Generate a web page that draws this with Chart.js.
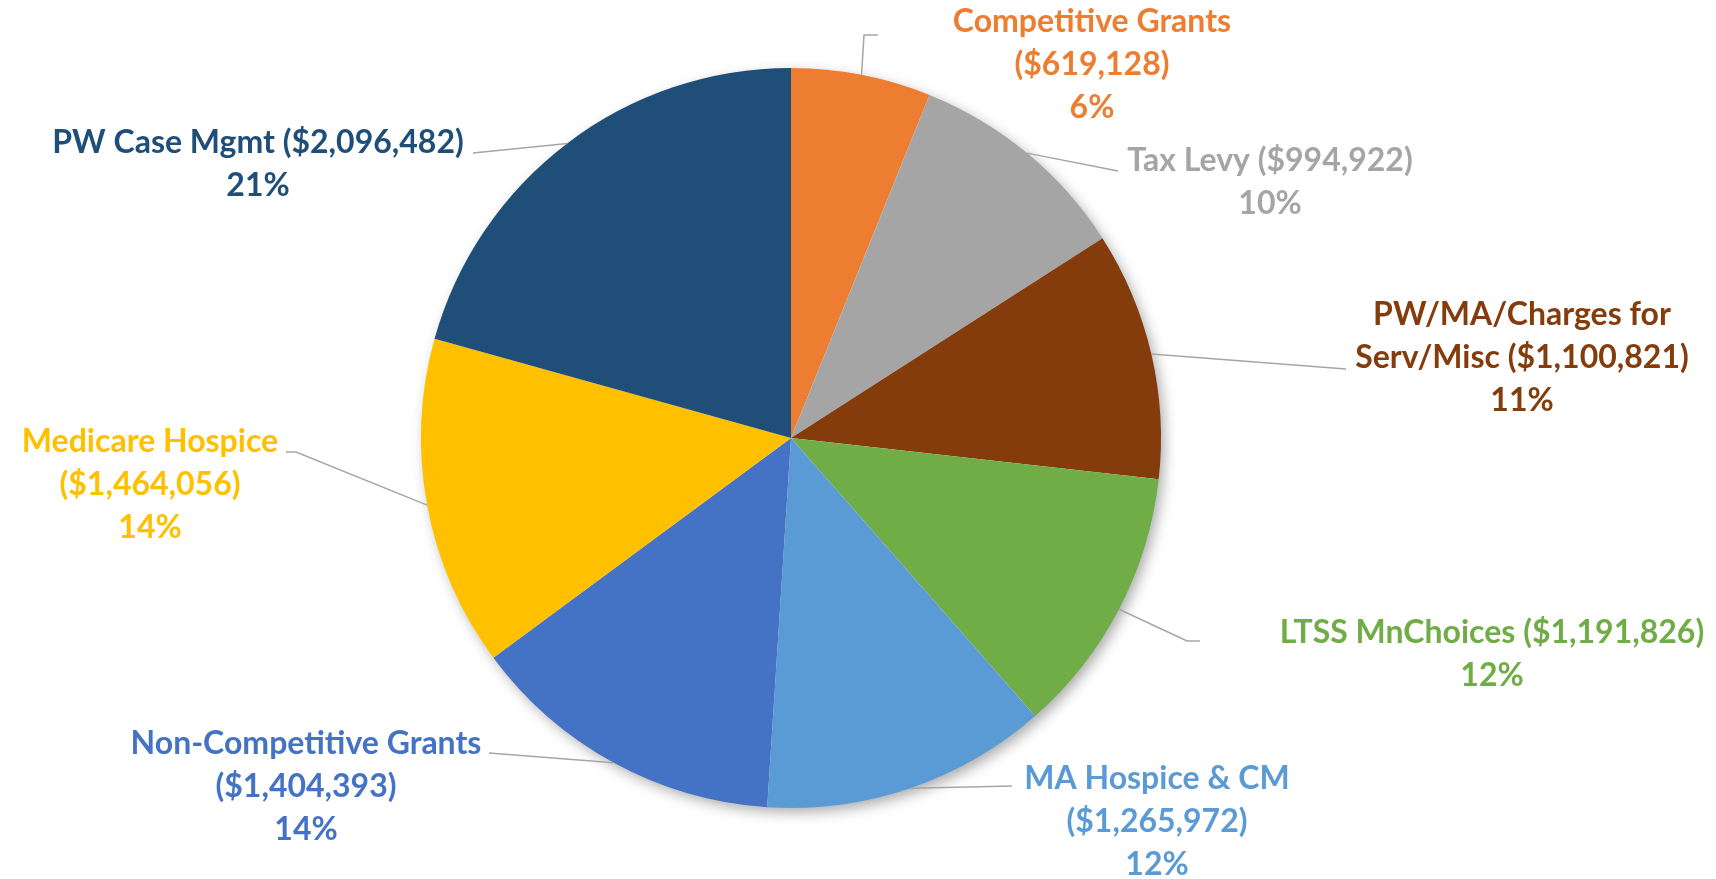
<!DOCTYPE html>
<html>
<head>
<meta charset="utf-8">
<title>Funding sources</title>
<script src="https://cdn.jsdelivr.net/npm/chart.js@4.4.1/dist/chart.umd.min.js"></script>
<style>
	html, body { margin: 0; padding: 0; background: #fff; }
	canvas { display: block; }
</style>
</head>
<body>
<canvas id="chartjs-fontes" width="1716" height="879"></canvas>
<script>
// data (clockwise from 12 o'clock)
const categories = [
	'Competitive Grants',
	'Tax Levy',
	'PW/MA/Charges for Serv/Misc',
	'LTSS MnChoices',
	'MA Hospice & CM',
	'Non-Competitive Grants',
	'Medicare Hospice',
	'PW Case Mgmt'
];
const amounts = [619128, 994922, 1100821, 1191826, 1265972, 1404393, 1464056, 2096482];
const colors = ['#ED7D31', '#A5A5A5', '#843C0C', '#70AD47', '#5B9BD5', '#4472C4', '#FFC000', '#1F4E79'];

// label placement (centre of first text line, leader line points after the arc edge)
// brk = words of the name on the first line, amtLine = amount goes on its own line
const labelLayout = [
	{ x: 1092, y: 22,  brk: 9, amtLine: true,  leader: [[864, 35], [878, 35]] },
	{ x: 1270, y: 161, brk: 9, amtLine: false, leader: [[1118, 171]] },
	{ x: 1522, y: 315, brk: 2, amtLine: false, leader: [[1346, 369]] },
	{ x: 1492, y: 633, brk: 9, amtLine: false, leader: [[1187, 641], [1200, 641]] },
	{ x: 1157, y: 779, brk: 9, amtLine: true,  leader: [[1012, 786]] },
	{ x: 306,  y: 744, brk: 9, amtLine: true,  leader: [[489, 753]] },
	{ x: 150,  y: 442, brk: 9, amtLine: true,  leader: [[296, 452], [286, 452]] },
	{ x: 258,  y: 143, brk: 9, amtLine: false, leader: [[473, 153]] }
];

const total = amounts.reduce((a, b) => a + b, 0);

function labelLines(i) {
	const words = categories[i].split(' ');
	const amt = '($' + amounts[i].toLocaleString('en-US') + ')';
	const pct = Math.round(amounts[i] / total * 100) + '%';
	const l = labelLayout[i];
	const first = words.slice(0, l.brk).join(' ');
	const rest = words.slice(l.brk).join(' ');
	const lines = [];
	if (rest) {
		lines.push(first);
		lines.push(rest + ' ' + amt);
	} else if (l.amtLine) {
		lines.push(first);
		lines.push(amt);
	} else {
		lines.push(first + ' ' + amt);
	}
	lines.push(pct);
	return lines;
}

// soft shadow under the whole pie, like the office chart
const pieShadow = {
	id: 'pieShadow',
	beforeDatasetsDraw(chart) {
		const arc = chart.getDatasetMeta(0).data[0];
		if (!arc) return;
		const ctx = chart.ctx;
		ctx.save();
		ctx.shadowColor = 'rgba(0, 0, 0, 0.35)';
		ctx.shadowBlur = 14;
		ctx.shadowOffsetX = 4;
		ctx.shadowOffsetY = 5;
		ctx.fillStyle = '#ffffff';
		ctx.beginPath();
		ctx.arc(arc.x, arc.y, arc.outerRadius - 1, 0, Math.PI * 2);
		ctx.fill();
		ctx.restore();
	}
};

// outside labels with leader lines
const outsideLabels = {
	id: 'outsideLabels',
	afterDatasetsDraw(chart) {
		const ctx = chart.ctx;
		const arcs = chart.getDatasetMeta(0).data;
		ctx.save();
		arcs.forEach((arc, i) => {
			const l = labelLayout[i];
			const mid = (arc.startAngle + arc.endAngle) / 2;
			ctx.strokeStyle = '#A6A6A6';
			ctx.lineWidth = 1.5;
			ctx.beginPath();
			ctx.moveTo(arc.x + Math.cos(mid) * arc.outerRadius, arc.y + Math.sin(mid) * arc.outerRadius);
			l.leader.forEach(p => ctx.lineTo(p[0], p[1]));
			ctx.stroke();

			ctx.fillStyle = colors[i];
			ctx.font = 'bold 32px Lato, "Open Sans", sans-serif';
			ctx.textAlign = 'center';
			ctx.textBaseline = 'middle';
			labelLines(i).forEach((t, k) => {
				ctx.fillText(t, l.x, l.y + k * 43);
			});
		});
		ctx.restore();
	}
};

document.addEventListener("DOMContentLoaded", function () {
	new Chart(document.getElementById("chartjs-fontes"), {
		type: 'pie',
		data: {
			labels: categories,
			datasets: [{
				data: amounts,
				backgroundColor: colors,
				borderWidth: 0
			}]
		},
		options: {
			responsive: false,
			maintainAspectRatio: false,
			animation: false,
			layout: {
				padding: { top: 68, bottom: 71, left: 400, right: 534 }
			},
			plugins: {
				legend: { display: false },
				tooltip: { enabled: false }
			}
		},
		plugins: [pieShadow, outsideLabels]
	});
});
</script>
</body>
</html>
